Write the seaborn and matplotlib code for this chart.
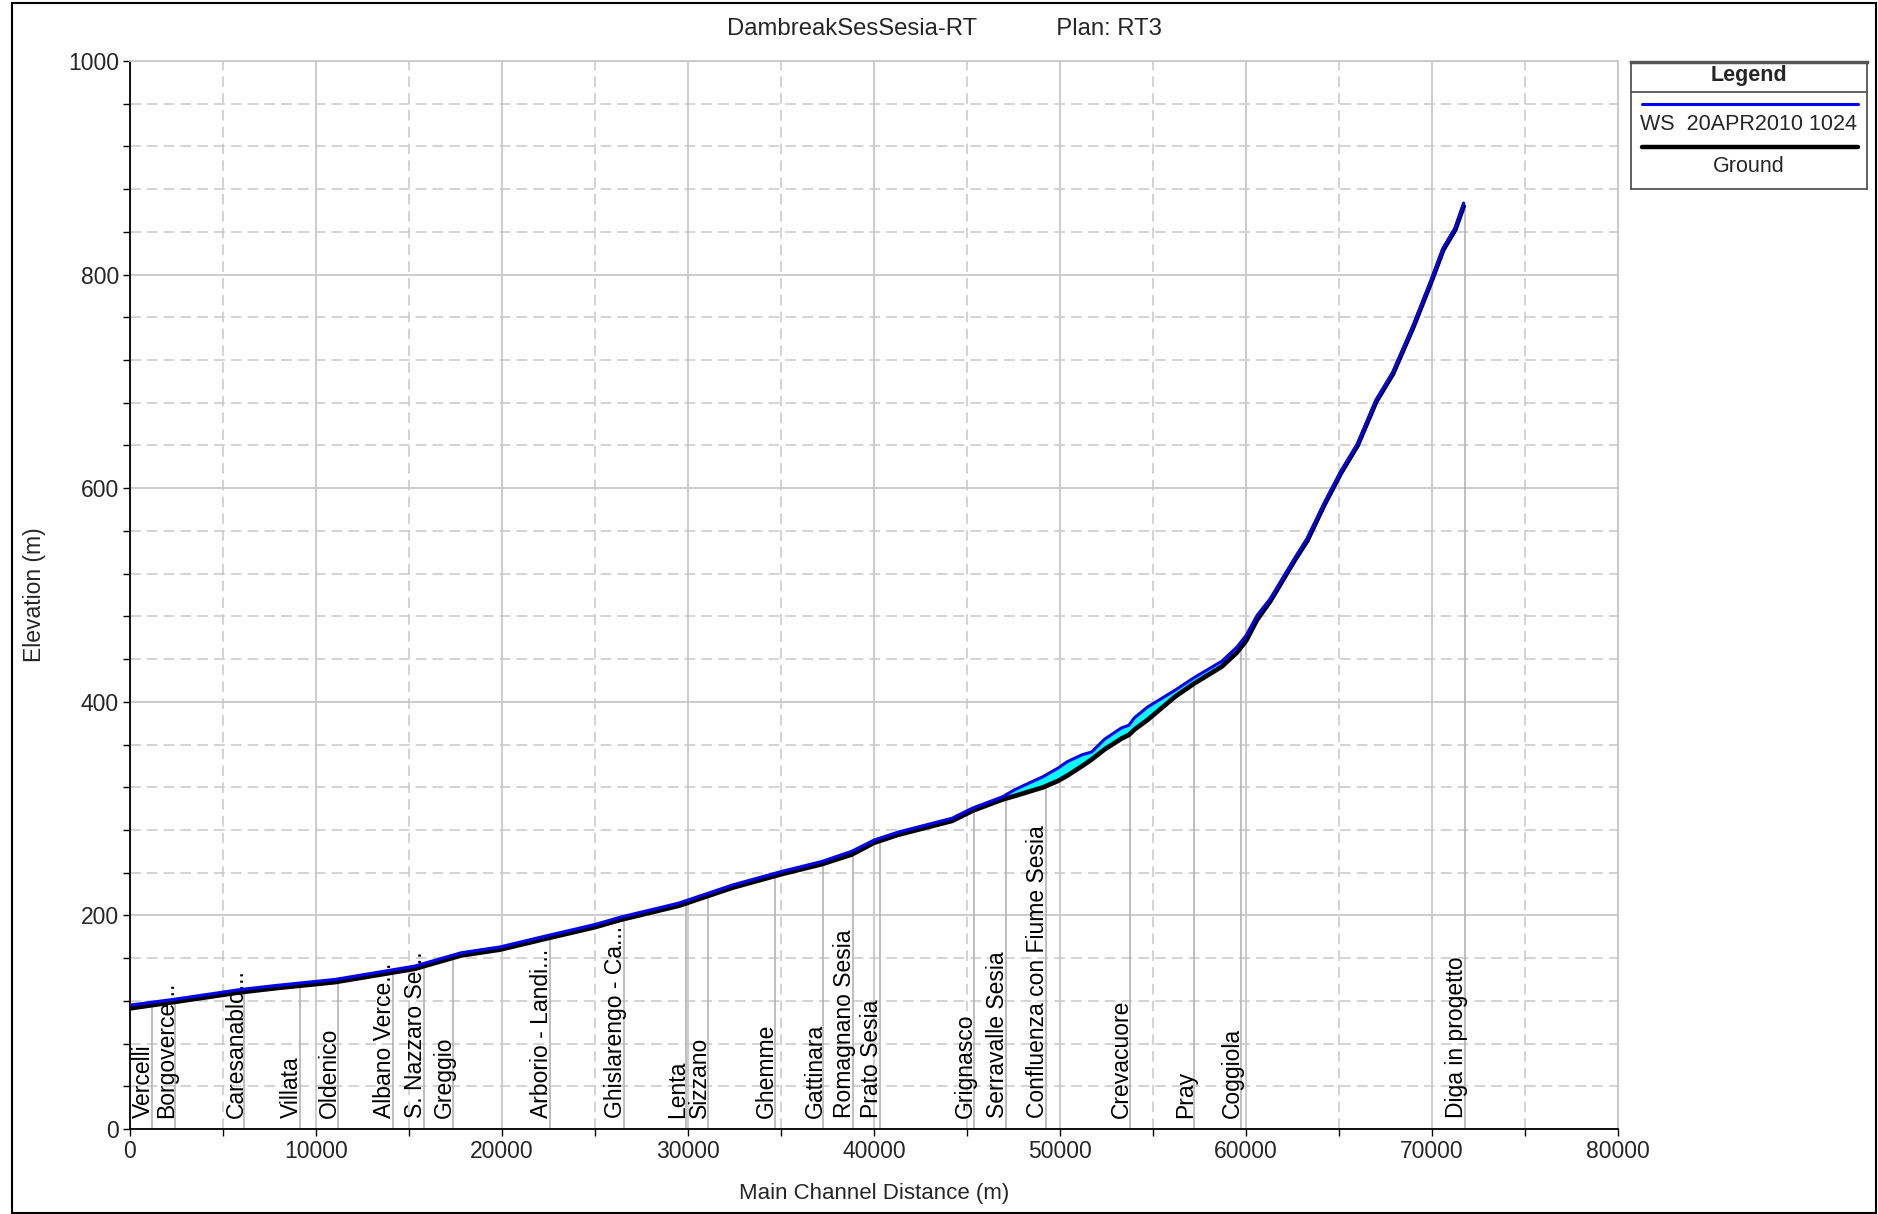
import numpy as np
import pandas as pd
import matplotlib
matplotlib.use("Agg")
import matplotlib.pyplot as plt
import seaborn as sns
from matplotlib.ticker import MultipleLocator
from matplotlib.patches import Rectangle

# profile along the main channel (m)
dist = [0, 2400, 5900, 7900, 11000, 12900, 15300, 17800, 19900, 22300, 25000, 26400,
        29500, 32400, 35000, 37200, 38800, 40000, 41300, 44200, 45300, 46900, 47600,
        49100, 49900, 50400, 51200, 51700, 52400, 53300, 53700, 54000, 54700, 56200,
        57200, 58700, 59500, 60000, 60600, 61300, 62600, 63300, 64200, 65100, 66000,
        67000, 67900, 69000, 70000, 70600, 71250, 71700]
ground = [113, 119, 128, 132, 137.5, 143, 150, 162.5, 168, 178, 189, 196,
          209, 226, 238.5, 248, 257, 268, 275.5, 288.5, 298, 308.5, 312,
          320, 326, 331, 340, 346, 355.5, 365.5, 369, 374, 383, 405,
          417, 433, 446, 457, 477, 494, 532, 551, 584, 614, 640,
          681, 707, 751, 795, 823, 842, 864]
ws = [116, 121.5, 130.5, 134.5, 140, 145.5, 152.5, 165, 170.5, 180.5, 191.5, 198.5,
      211.5, 228.5, 241, 250.5, 260, 270.5, 278, 291, 300.5, 311, 318,
      330, 338, 344, 350.5, 353, 365, 375.5, 378, 385, 395, 411,
      422.5, 438, 451, 462, 481, 496.5, 534, 553.5, 586, 616, 642,
      683, 709, 753, 797, 825, 844, 867]

# cross-section labels
station_names = ["Vercelli", "Borgoverce...", "Caresanablo...", "Villata", "Oldenico",
                 "Albano Verce...", "S. Nazzaro Se...", "Greggio", "Arborio - Landi...",
                 "Ghislarengo - Ca...", "Lenta", "Sizzano", "Ghemme", "Gattinara",
                 "Romagnano Sesia", "Prato Sesia", "Grignasco", "Serravalle Sesia",
                 "Confluenza con Fiume Sesia", "Crevacuore", "Pray", "Coggiola",
                 "Diga in progetto"]
station_dist = [1200, 2420, 6150, 9140, 11200, 14120, 15800, 17380, 22580,
                26560, 29890, 31090, 34680, 37280, 38890, 40320, 45380, 47100,
                49230, 53760, 57200, 59750, 71800]

df = pd.DataFrame({"dist": dist, "ground": ground, "ws": ws})

sns.set_theme(style="white")
plt.rcParams['font.family'] = ['Liberation Sans', 'DejaVu Sans']

fig = plt.figure(figsize=(18.78, 12.14), dpi=100)
ax = fig.add_axes([130 / 1878, 1 - 1129 / 1214, 1488 / 1878, 1068 / 1214])

grid_c = "#c8c8c8"
ax.set_xlim(0, 80000)
ax.set_ylim(0, 1000)
ax.xaxis.set_major_locator(MultipleLocator(10000))
ax.xaxis.set_minor_locator(MultipleLocator(5000))
ax.yaxis.set_major_locator(MultipleLocator(200))
ax.yaxis.set_minor_locator(MultipleLocator(40))
ax.grid(which="major", color=grid_c, linewidth=1.3, linestyle="-")
ax.grid(which="minor", color=grid_c, linewidth=1.1, linestyle=(0, (7, 4)))
ax.set_axisbelow(True)
ax.tick_params(which="both", direction="out", length=5, width=1, color="black",
               bottom=True, left=True, labelsize=16.5, pad=3)
for s in ["left", "bottom"]:
    ax.spines[s].set_color("black")
    ax.spines[s].set_linewidth(1.3)
for s in ["top", "right"]:
    ax.spines[s].set_color(grid_c)
    ax.spines[s].set_linewidth(1.3)

# cross-section lines up to ground
tops = np.interp(station_dist, dist, ground)
ax.vlines(station_dist, 0, tops, color="#b4b4b4", linewidth=1.2, zorder=1)
for name, d in zip(station_names, station_dist):
    ax.annotate(name, xy=(d, 0), xycoords=ax.get_xaxis_transform(),
                xytext=(3, 11), textcoords="offset pixels", rotation=90,
                ha="right", va="bottom", fontsize=16.5, color="black")

ax.fill_between(df["dist"], df["ground"], df["ws"], color="cyan", zorder=2, linewidth=0)
sns.lineplot(data=df, x="dist", y="ground", color="black", linewidth=3.4,
             estimator=None, sort=False, ax=ax, zorder=3)
sns.lineplot(data=df, x="dist", y="ws", color="#0000ff", linewidth=2.2,
             estimator=None, sort=False, ax=ax, zorder=4)

ax.set_xlabel("")
ax.set_ylabel("")
fig.text(874 / 1878, 1 - 1194 / 1214, "Main Channel Distance (m)", ha="center",
         va="center", fontsize=16)
fig.text(34 / 1878, 1 - 595 / 1214, "Elevation (m)", ha="center", va="center",
         rotation=90, fontsize=16.5)
fig.text(0.503, 1 - 29 / 1214, "DambreakSesSesia-RT" + " " * 12 + "Plan: RT3",
         ha="center", va="center", fontsize=17.2)

# legend box
lg = fig.add_axes([1631 / 1878, 1 - 189 / 1214, 236 / 1878, 127 / 1214])
lg.set_xlim(1631, 1867)
lg.set_ylim(189, 62)
lg.set_xticks([])
lg.set_yticks([])
lg.set_facecolor("white")
for s in lg.spines.values():
    s.set_color("#555555")
    s.set_linewidth(1.3)
lg.spines["top"].set_linewidth(2.5)
lg.axhline(92, color="#555555", linewidth=1.3)
lg.text(1749, 76, "Legend", ha="center", va="center", fontsize=15.5, fontweight="bold")
lg.plot([1642, 1858], [104, 104], color="#0000ff", linewidth=2.2)
lg.text(1749, 124, "WS  20APR2010 1024", ha="center", va="center", fontsize=15.5)
lg.plot([1642, 1858], [147, 147], color="black", linewidth=3.2, solid_capstyle="round")
lg.text(1749, 166, "Ground", ha="center", va="center", fontsize=15.5)

# outer frame
fig.patches.append(Rectangle((12 / 1878, 1 / 1214), 1864 / 1878, 1210 / 1214,
                             transform=fig.transFigure, fill=False,
                             edgecolor="black", linewidth=1.5))

fig.savefig("out.png", dpi=100)
